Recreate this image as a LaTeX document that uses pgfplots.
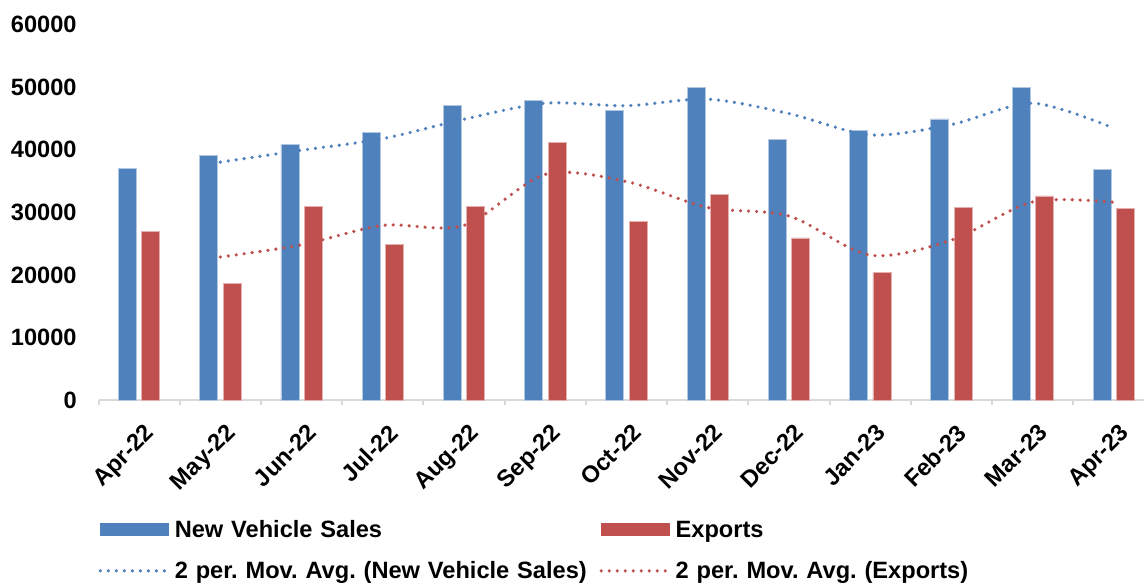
\documentclass[border=0pt]{standalone}
\usepackage{fontspec}
\setmainfont{Liberation Sans}
\usepackage{pgfplots}
\usepackage{pgfplotstable}
\pgfplotsset{compat=1.18}

\definecolor{nvsblue}{HTML}{4F81BD}
\definecolor{expred}{HTML}{C0504D}
\definecolor{axisgray}{HTML}{D9D9D9}

\newcommand{\lbl}{\fontsize{11.8}{14}\selectfont\bfseries\frenchspacing}

% monthly values, Apr-22 .. Apr-23
\pgfplotstableread{
idx nvs exports
0  37000 27000
1  39000 18700
2  40800 30900
3  42700 24900
4  47000 30900
5  47800 41200
6  46200 28600
7  49900 32900
8  41600 25900
9  43100 20400
10 44900 30700
11 49900 32600
12 36900 30600
}\salesdata

% 2 period moving averages
\pgfplotstableread{
idx nvsma expma
1  38000 22850
2  39900 24800
3  41750 27900
4  44850 27900
5  47400 36050
6  47000 34900
7  48050 30750
8  45750 29400
9  42350 23150
10 44000 25550
11 47400 31650
12 43400 31600
}\madata

\begin{document}
\begin{tikzpicture}
\begin{axis}[
    name=ax,
    scale only axis,
    width=522.5pt, height=187.85pt,
    xmin=-0.5, xmax=12.37,
    ymin=0, ymax=60000,
    axis x line*=bottom,
    axis y line*=left,
    y axis line style={draw=none},
    x axis line style={draw=axisgray, line width=1pt},
    tick align=outside,
    major tick length=0pt,
    ytick={0,10000,...,60000},
    scaled y ticks=false,
    /pgf/number format/assume math mode=true,
    /pgf/number format/1000 sep={},
    yticklabel style={font=\lbl, inner sep=0pt, anchor=east, xshift=-10.75pt},
    xtick={0,...,12},
    xticklabels={Apr-22,May-22,Jun-22,Jul-22,Aug-22,Sep-22,Oct-22,Nov-22,Dec-22,Jan-23,Feb-23,Mar-23,Apr-23},
    xticklabel style={font=\lbl, inner sep=0pt, xshift=2.2pt, yshift=-11pt, rotate=45, anchor=north east},
    extra x ticks={-0.5,0.5,1.5,2.5,3.5,4.5,5.5,6.5,7.5,8.5,9.5,10.5,11.5},
    extra x tick labels={},
    extra x tick style={major tick length=2.6pt, tick style={draw=axisgray, line width=1pt}},
    legend columns=2,
    legend cell align=left,
    legend style={
        at={(0,0)}, anchor=north west, yshift=-60pt,
        draw=none, fill=none, inner sep=0pt, outer sep=0pt,
        font=\lbl, row sep=9.6pt,
        nodes={inner sep=0pt, text width=212.25pt, text height=8.5pt, text depth=2.5pt, anchor=base west},
        /tikz/every odd column/.append style={column sep=3pt},
    },
]
\addplot[ybar, bar width=9pt, bar shift=-5.85pt, fill=nvsblue, draw=nvsblue!45!white, line width=0.4pt,
    legend image code/.code={\fill[nvsblue] (0pt,0.7pt) rectangle (34pt,6.9pt);}]
    table[x=idx, y=nvs] {\salesdata};
\addlegendentry{New Vehicle Sales}
\addplot[ybar, bar width=9pt, bar shift=5.85pt, fill=expred, draw=expred!45!white, line width=0.4pt,
    legend image code/.code={\fill[expred] (0pt,0.7pt) rectangle (34pt,6.9pt);}]
    table[x=idx, y=exports] {\salesdata};
\addlegendentry{Exports}
\addplot[nvsblue, smooth, tension=0.5, line width=1.8pt, line cap=round, dash pattern=on 0pt off 4pt,
    legend image code/.code={\draw[nvsblue, line width=1.8pt, line cap=round, dash pattern=on 0pt off 4pt] (0pt,3.8pt) -- (33pt,3.8pt);}]
    table[x=idx, y=nvsma] {\madata};
\addlegendentry{2 per. Mov. Avg. (New Vehicle Sales)}
\addplot[expred, smooth, tension=0.5, line width=1.8pt, line cap=round, dash pattern=on 0pt off 4pt,
    legend image code/.code={\draw[expred, line width=1.8pt, line cap=round, dash pattern=on 0pt off 4pt] (0pt,3.8pt) -- (33pt,3.8pt);}]
    table[x=idx, y=expma] {\madata};
\addlegendentry{2 per. Mov. Avg. (Exports)}
\end{axis}
\pgfresetboundingbox
\path[use as bounding box] ([xshift=-49.25pt, yshift=-91.5pt]ax.south west) rectangle ([yshift=200pt]ax.south east);
\end{tikzpicture}
\end{document}
